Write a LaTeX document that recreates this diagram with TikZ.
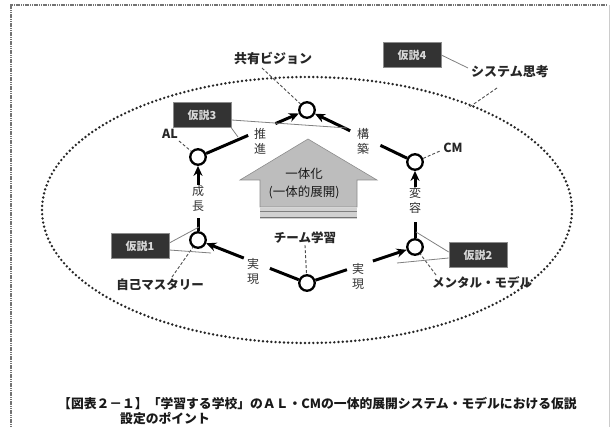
\documentclass[tikz,border=0pt]{standalone}
\usepackage{fontspec}
\newfontfamily\jp{Noto Sans CJK JP}
\usetikzlibrary{arrows.meta,calc}
\definecolor{boxdark}{HTML}{333333}
\definecolor{boxtext}{HTML}{D8D8D8}
\definecolor{houseg}{HTML}{BDBDBD}
\begin{document}
\begin{tikzpicture}[x=1pt,y=-1pt,
  every node/.style={font=\jp\fontsize{12.5}{14}\selectfont, text=black!90, inner sep=1pt},
  concept/.style={font=\jp\bfseries\fontsize{12.5}{14}\selectfont, text=black!85},
  hub/.style={circle, draw=black, fill=white, line width=2.3pt, minimum size=15.5pt, inner sep=0pt},
  vlab/.style={align=center, font=\jp\fontsize{12}{15}\selectfont, inner sep=0pt, text=black!80},
  hypo/.style={draw=black!45, fill=boxdark, line width=0.6pt, minimum width=58pt, minimum height=25pt, inner sep=0pt, text=boxtext, font=\jp\bfseries\fontsize{11}{12}\selectfont},
  thick edge/.style={line width=3pt, black},
  arrow edge/.style={line width=3pt, black, -{Stealth[length=10pt,width=9pt]}},
  leader/.style={black!70, line width=0.9pt, dash pattern=on 3pt off 2pt},
  pointer/.style={black!50, line width=0.8pt},
  dotring/.style={black!85, line width=2.7pt, line cap=round, dash pattern=on 0pt off 4.2pt}
]
\useasboundingbox (0,0) rectangle (611,427);
% frame
\draw[black!55, line width=1.3pt, dash pattern=on 1.2pt off 0.6pt] (11,427) -- (11,5) -- (607,5);
\draw[black!20, line width=0.6pt] (609,5) -- (609,427);

% dotted ellipse
\draw[dotring] (307,210) ellipse [x radius=265pt, y radius=133pt];

% house
\filldraw[fill=houseg, draw=black!45, line width=0.6pt] (240,180) -- (308,139) -- (377,180) -- (357,180) -- (357,207) -- (260,207) -- (260,180) -- cycle;
\fill[black!18] (260,208) rectangle (357,219);
\draw[black!50, line width=1.2pt] (260,211.5) -- (357,211.5);
\draw[black!55, line width=1.4pt] (260,217.5) -- (357,217.5);
\node (house1) at (304,174) {一体化};
\node (house2) at (304,192) {(一体的展開)};

% hubs
\node[hub] (T)  at (307,110) {};
\node[hub] (UL) at (198,157) {};
\node[hub] (UR) at (415,162) {};
\node[hub] (LL) at (198,240) {};
\node[hub] (LR) at (415,247) {};
\node[hub] (B)  at (307,283) {};

% edge labels
\node[vlab] (lBL) at (253,271) {実\\現};
\node[vlab] (lBR) at (358,276) {実\\現};
\node[vlab] (lL)  at (198,198) {成\\長};
\node[vlab] (lR)  at (415,200) {変\\容};
\node[vlab] (lTL) at (260,141) {推\\進};
\node[vlab] (lTR) at (363,141) {構\\築};

% edges
\draw[thick edge] (B) -- ($(B)!0.34!(LL)$);
\draw[arrow edge] ($(B)!0.58!(LL)$) -- (LL);
\draw[thick edge] (B) -- ($(B)!0.37!(LR)$);
\draw[arrow edge] ($(B)!0.61!(LR)$) -- (LR);
\draw[thick edge] (LL) -- ($(LL)!0.27!(UL)$);
\draw[arrow edge] ($(LL)!0.66!(UL)$) -- (UL);
\draw[thick edge] (LR) -- ($(LR)!0.29!(UR)$);
\draw[arrow edge] ($(LR)!0.70!(UR)$) -- (UR);
\draw[thick edge] (UL) -- ($(UL)!0.46!(T)$);
\draw[arrow edge] ($(UL)!0.71!(T)$) -- (T);
\draw[thick edge] (UR) -- ($(UR)!0.32!(T)$);
\draw[arrow edge] ($(UR)!0.60!(T)$) -- (T);

% concept labels
\node[concept, font=\jp\bfseries\fontsize{13}{14}\selectfont] (vision) at (273,58) {共有ビジョン};
\node[concept, font=\jp\bfseries\fontsize{13}{14}\selectfont] (systems) at (510,72) {システム思考};
\node[concept] (mastery) at (160,285) {自己マスタリー};
\node[concept] (mental) at (482,283) {メンタル・モデル};
\node[concept] (team) at (305,238) {チーム学習};
\node[concept] (al) at (170,134) {AL};
\node[concept] (cm) at (453,148) {CM};

% leaders
\coordinate (v1) at (262,68);
\draw[leader] (v1) -- (T);
\coordinate (s1) at (497,88);
\coordinate (s2) at (468,108);
\draw[leader] (s1) -- (s2);
\coordinate (a1) at (179,141);
\draw[leader] (a1) -- (UL);
\coordinate (c1) at (440,151);
\draw[leader] (UR) -- (c1);
\coordinate (m1) at (172,277);
\draw[leader] (m1) -- (LL);
\coordinate (n1) at (436,275);
\draw[leader] (n1) -- (LR);
\draw[leader] (team.south) -- (B);

% hypothesis boxes
\node[hypo] (H4) at (412,55) {仮説4};
\node[hypo] (H3) at (202,115) {仮説3};
\node[hypo] (H1) at (140,246) {仮説1};
\node[hypo] (H2) at (478,255) {仮説2};

% pointer lines from boxes
\coordinate (p4) at (468,68);
\draw[pointer] (H4.east) -- (p4);
\coordinate (p3a) at (347,128);
\coordinate (p3b) at (238,137);
\draw[pointer] ($(H3.east)+(0,5)$) -- (p3a);
\draw[pointer] (H3.south east) -- (p3b);
\coordinate (p1a) at (199,227);
\coordinate (p1b) at (211,253);
\draw[pointer] ($(H1.east)+(0,-3)$) -- (p1a);
\draw[pointer] ($(H1.east)+(0,4)$) -- (p1b);
\coordinate (p2a) at (416,232);
\coordinate (p2b) at (397,263);
\draw[pointer] ($(H2.west)+(0,-3)$) -- (p2a);
\draw[pointer] ($(H2.west)+(0,3)$) -- (p2b);

% caption
\node[anchor=west, font=\jp\bfseries\fontsize{12.8}{14}\selectfont, inner sep=0pt] (cap1) at (58,404) {【図表２－１】「学習する学校」のＡＬ・CMの一体的展開システム・モデルにおける仮説};
\node[anchor=west, font=\jp\bfseries\fontsize{12.8}{14}\selectfont, inner sep=0pt] (cap2) at (120,419) {設定のポイント};
\end{tikzpicture}
\end{document}
